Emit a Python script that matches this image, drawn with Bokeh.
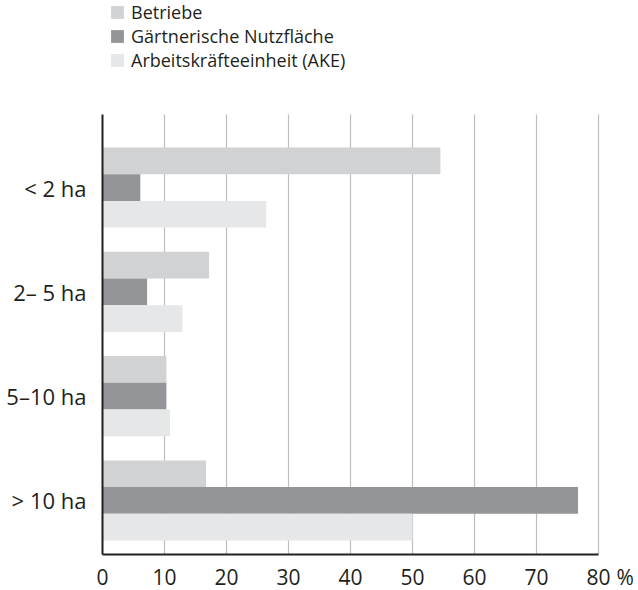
from bokeh.plotting import figure
from bokeh.models import Range1d, FixedTicker, Legend, LegendItem, Label
from bokeh.embed import file_html
from bokeh.resources import INLINE

categories = ["< 2 ha", "2– 5 ha", "5–10 ha", "> 10 ha"]
series_names = ["Betriebe", "Gärtnerische Nutzfläche", "Arbeitskräfteeinheit (AKE)"]
betriebe = [54.5, 17.2, 10.3, 16.7]
nutzflaeche = [6.1, 7.2, 10.3, 76.7]
ake = [26.4, 12.9, 10.9, 50.0]
x_ticks = [0, 10, 20, 30, 40, 50, 60, 70, 80]
unit_label = "%"
colors = ["#d1d2d4", "#939598", "#e6e7e8"]

FONT = "Open Sans"
TXT = "#231f20"

# chart area in data units (the frame spans the whole canvas)
x_lo, x_hi = x_ticks[0], x_ticks[-1]
cat_top, cat_bottom = -0.70, 3.518

p = figure(width=638, height=590, output_backend="svg", toolbar_location=None,
           x_range=Range1d(-16.45, 86.45), y_range=Range1d(3.863, -1.793),
           min_border=0)
p.outline_line_color = None
p.xgrid.visible = False
p.ygrid.visible = False

# vertical grid lines, limited to the chart area
p.segment(x0=x_ticks[1:], x1=x_ticks[1:], y0=cat_bottom, y1=cat_top,
          line_color="#bcbec0", line_width=1.2)

bar_h = 0.256
idx = list(range(len(categories)))
series = [betriebe, nutzflaeche, ake]
renderers = []
for k, (vals, col) in enumerate(zip(series, colors)):
    ys = [i + (k - 1) * bar_h for i in idx]
    r = p.hbar(y=ys, right=vals, left=0, height=bar_h, fill_color=col, line_color=None)
    renderers.append(r)

# x axis
xa = p.xaxis[0]
xa.fixed_location = cat_bottom
xa.bounds = (x_lo, x_hi)
xa.ticker = FixedTicker(ticks=x_ticks)
xa.major_tick_line_color = None
xa.minor_tick_line_color = None
xa.axis_line_color = TXT
xa.axis_line_width = 2
xa.major_label_text_font = FONT
xa.major_label_text_font_size = "21px"
xa.major_label_text_color = TXT
xa.major_label_standoff = 8

# y axis
ya = p.yaxis[0]
ya.fixed_location = x_lo
ya.bounds = (cat_top, cat_bottom)
ya.ticker = FixedTicker(ticks=idx)
ya.major_label_overrides = {i: c for i, c in zip(idx, categories)}
ya.major_tick_line_color = None
ya.minor_tick_line_color = None
ya.axis_line_color = TXT
ya.axis_line_width = 2
ya.major_label_text_font = FONT
ya.major_label_text_font_size = "22px"
ya.major_label_text_color = TXT
ya.major_label_standoff = 10

# percent sign after the last tick label
p.add_layout(Label(x=x_hi, y=cat_bottom, text=unit_label, x_offset=18, y_offset=-22,
                   text_font=FONT, text_font_size="21px", text_color=TXT,
                   text_align="left", text_baseline="middle"))

legend = Legend(items=[LegendItem(label=n, renderers=[r]) for n, r in zip(series_names, renderers)],
                location=(109, 518), orientation="vertical",
                glyph_width=16, glyph_height=16, label_height=16, spacing=-5,
                label_standoff=6, padding=0, margin=0,
                background_fill_alpha=0, border_line_color=None,
                label_text_font=FONT, label_text_font_size="18px", label_text_color=TXT)
p.add_layout(legend, "center")

open("out.html", "w").write(file_html(p, INLINE))
